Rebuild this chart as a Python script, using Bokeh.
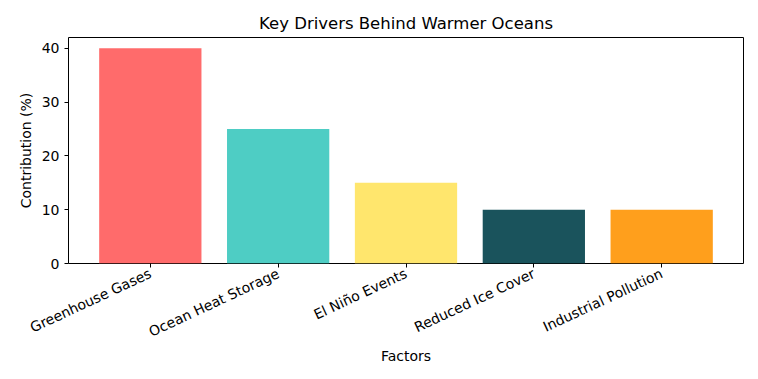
import math
from bokeh.plotting import figure
from bokeh.models import ColumnDataSource, FixedTicker, Range1d
from bokeh.embed import file_html
from bokeh.resources import INLINE

factors = ["Greenhouse Gases", "Ocean Heat Storage", "El Niño Events", "Reduced Ice Cover", "Industrial Pollution"]
contribution = [40, 25, 15, 10, 10]
colors = ["#FF6B6B", "#4ECDC4", "#FFE66D", "#1A535C", "#FF9F1C"]
y_ticks = [0, 10, 20, 30, 40]

xs = list(range(len(factors)))
src = ColumnDataSource(dict(x=xs, top=contribution, color=colors))

FONT = "DejaVu Sans"

p = figure(width=758, height=379, output_backend="svg", toolbar_location=None,
           x_range=Range1d(-0.64, len(factors) - 1 + 0.64), y_range=Range1d(0, 42),
           title="Key Drivers Behind Warmer Oceans")
p.frame_width = 675
p.frame_height = 226
p.min_border_left = 68
p.min_border_right = 15
p.min_border_top = 37
p.min_border_bottom = 116

p.vbar(x="x", top="top", width=0.8, bottom=0, fill_color="color", line_color=None, source=src)

p.title.align = "center"
p.title.text_font = FONT
p.title.text_font_size = "16.5px"
p.title.text_font_style = "normal"
p.title.text_color = "black"

p.xgrid.visible = False
p.ygrid.visible = False
p.outline_line_color = "black"
p.outline_line_width = 1

for ax in (p.xaxis[0], p.yaxis[0]):
    ax.axis_line_color = None
    ax.major_tick_line_color = "black"
    ax.major_tick_out = 4
    ax.major_tick_in = 0
    ax.minor_tick_line_color = None
    ax.major_label_text_font = FONT
    ax.major_label_text_font_size = "14px"
    ax.major_label_text_color = "black"
    ax.axis_label_text_font = FONT
    ax.axis_label_text_font_size = "14px"
    ax.axis_label_text_font_style = "normal"
    ax.axis_label_text_color = "black"

p.xaxis.ticker = FixedTicker(ticks=xs)
p.xaxis.major_label_overrides = {i: f for i, f in enumerate(factors)}
p.xaxis.major_label_orientation = math.radians(25)
p.xaxis.axis_label = "Factors"
p.xaxis.axis_label_standoff = -2

p.yaxis.ticker = FixedTicker(ticks=y_ticks)
p.yaxis.axis_label = "Contribution (%)"

open("out.html", "w").write(file_html(p, INLINE))
